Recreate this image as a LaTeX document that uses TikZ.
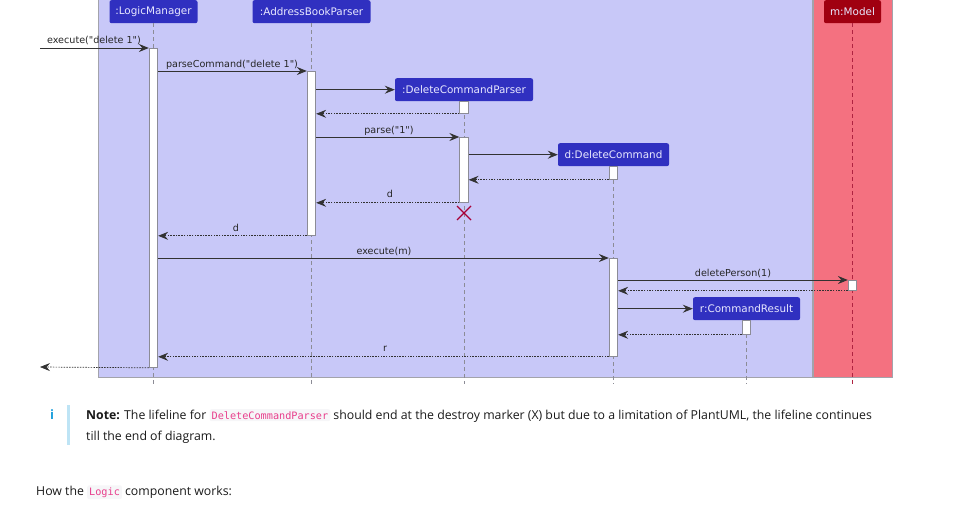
\documentclass[tikz,border=0pt]{standalone}
\usepackage{fontspec}
\setmainfont{Open Sans}
\newfontfamily\umlfont{DejaVu Sans}
\newfontfamily\codefont{DejaVu Sans Mono}
\usetikzlibrary{arrows.meta}
\definecolor{grpblue}{RGB}{200,200,248}
\definecolor{grpred}{RGB}{244,113,128}
\definecolor{partblue}{RGB}{48,48,192}
\definecolor{partred}{RGB}{160,0,16}
\definecolor{parttext}{RGB}{232,232,255}
\definecolor{msgcol}{RGB}{50,50,50}
\definecolor{lifecol}{RGB}{140,140,150}
\definecolor{modellife}{RGB}{175,35,65}
\definecolor{destroycol}{RGB}{168,0,54}
\definecolor{codepink}{RGB}{232,62,140}
\definecolor{codebg}{RGB}{246,246,248}
\definecolor{infoblue}{RGB}{30,160,220}
\definecolor{infobar}{RGB}{190,228,245}
\tikzset{
  part/.style={fill=partblue, rounded corners=2pt, text=parttext, font=\umlfont\fontsize{10.4}{11}\selectfont, minimum height=23pt, inner sep=0pt, anchor=north},
  life/.style={draw=lifecol, dash pattern=on 4pt off 3pt, line width=0.6pt},
  act/.style={draw=lifecol, fill=white, line width=0.8pt, minimum width=8.5pt, inner sep=0pt, anchor=north},
  msg/.style={draw=msgcol, line width=0.9pt, -{Stealth[length=10pt,width=8pt,inset=3.5pt]}},
  ret/.style={draw=msgcol, line width=0.7pt, dash pattern=on 1.5pt off 1.2pt, -{Stealth[length=10pt,width=8pt,inset=3.5pt]}},
  lbl/.style={font=\umlfont\fontsize{9.6}{10}\selectfont, text=black!85, inner sep=0pt, anchor=base},
  code/.style={font=\codefont\fontsize{10.2}{11}\selectfont, text=codepink, fill=codebg, rounded corners=2pt, inner xsep=2pt, inner ysep=2.5pt, anchor=base west},
  notetext/.style={anchor=base west, inner sep=0pt, font=\fontsize{12.3}{14}\selectfont, text=black!90},
}
\begin{document}
\begin{tikzpicture}[x=1pt,y=-1pt]
\useasboundingbox (0,0) rectangle (954,519);
% groups
\fill[grpblue] (98,0) rectangle (812,377);
\draw[lifecol!80, line width=0.8pt] (98,0) -- (98,377) -- (812,377) -- (812,0);
\fill[grpred] (813,0) rectangle (892,377);
\draw[lifecol!80, line width=0.8pt] (813,0) -- (813,377) -- (892,377) -- (892,0);
% participants
\node[part, minimum width=88pt] (lm) at (153.5,0) {:LogicManager};
\node[part, minimum width=118pt] (abp) at (311.5,0) {:AddressBookParser};
\node[part, minimum width=138pt] (dcp) at (464,78) {:DeleteCommandParser};
\node[part, minimum width=111pt] (dc) at (613.5,143) {d:DeleteCommand};
\node[part, minimum width=107pt] (cr) at (746.5,297) {r:CommandResult};
\node[part, minimum width=57pt, fill=partred] (mm) at (852.5,0) {m:Model};
% lifelines
\coordinate (lmend) at (153.5,384);
\coordinate (abpend) at (311.5,384);
\coordinate (dcpend) at (464,384);
\coordinate (dcend) at (613.5,384);
\coordinate (crend) at (746.5,384);
\coordinate (mmend) at (852.5,384);
\draw[life] (lm.south) -- (lmend);
\draw[life] (abp.south) -- (abpend);
\draw[life] (dcp.south) -- (dcpend);
\draw[life] (dc.south) -- (dcend);
\draw[life] (cr.south) -- (crend);
\draw[life, draw=modellife, line width=0.7pt] (mm.south) -- (mmend);
% activations
\node[act, minimum height=319pt] (a1) at (153.5,48) {};
\node[act, minimum height=164pt] (a2) at (311.5,71) {};
\node[act, minimum height=12pt] (a3) at (464,101) {};
\node[act, minimum height=65pt] (a4) at (464,137) {};
\node[act, minimum height=13pt] (a5) at (613.5,166) {};
\node[act, minimum height=98pt] (a6) at (613.5,258) {};
\node[act, minimum height=10pt] (a7) at (852.5,280) {};
\node[act, minimum height=14pt] (a8) at (746.5,320) {};
% external endpoints
\coordinate (extin) at (40,48);
\coordinate (extout) at (40,367);
% messages
\draw[msg] (extin) -- (a1.north west);
\node[lbl] (l1) at (94,44) {execute("delete 1")};
\draw[msg] (a1.east |- a2.north) -- (a2.north west);
\node[lbl] (l2) at (232,67) {parseCommand("delete 1")};
\draw[msg] (a2.east |- dcp.west) -- (dcp.west);
\draw[ret] (a3.south west) -- (a2.east |- a3.south);
\draw[msg] (a2.east |- a4.north) -- (a4.north west);
\node[lbl] (l3) at (389,133) {parse("1")};
\draw[msg] (a4.east |- dc.west) -- (dc.west);
\draw[ret] (a5.south west) -- (a4.east |- a5.south);
\draw[ret] (a4.south west) -- (a2.east |- a4.south);
\node[lbl] (l4) at (390,197) {d};
\draw[destroycol, line width=1.1pt] (457,206) -- (471,220) (457,220) -- (471,206);
\draw[ret] (a2.south west) -- (a1.east |- a2.south);
\node[lbl] (l5) at (236,231) {d};
\draw[msg] (a1.east |- a6.north) -- (a6.north west);
\node[lbl] (l6) at (384,254) {execute(m)};
\draw[msg] (a6.east |- a7.north) -- (a7.north west);
\node[lbl] (l7) at (733,276) {deletePerson(1)};
\draw[ret] (a7.south west) -- (a6.east |- a7.south);
\draw[msg] (a6.east |- cr.west) -- (cr.west);
\draw[ret] (a8.south west) -- (a6.east |- a8.south);
\draw[ret] (a6.south west) -- (a1.east |- a6.south);
\node[lbl] (l8) at (385,351) {r};
\draw[ret] (a1.south west) -- (extout);
% note
\node[text=infoblue, font=\fontsize{13}{15}\selectfont\bfseries, anchor=base] (info) at (52,419) {i};
\fill[infobar] (67,405) rectangle (70,445);
\node[notetext] (n1) at (86,419) {\textbf{Note:} The lifeline for \tikz[baseline=(c.base)]\node[code,inner sep=2pt] (c) {DeleteCommandParser}; should end at the destroy marker (X) but due to a limitation of PlantUML, the lifeline continues};
\node[notetext] (n2) at (86,440) {till the end of diagram.};
\node[notetext] (h) at (36,495) {How the \tikz[baseline=(c.base)]\node[code,inner sep=2pt] (c) {Logic}; component works:};
\end{tikzpicture}
\end{document}
